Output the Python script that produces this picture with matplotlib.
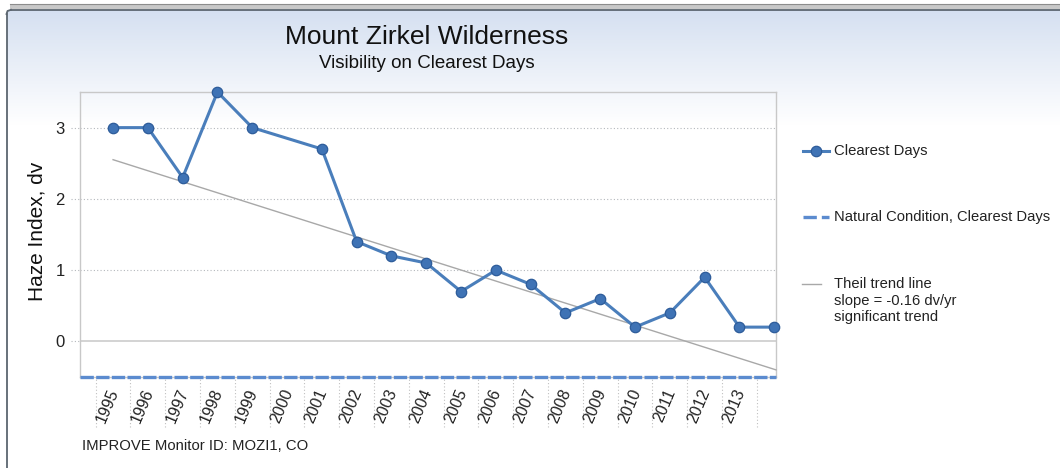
import numpy as np
import matplotlib
matplotlib.use("Agg")
import matplotlib.pyplot as plt
from matplotlib.patches import Rectangle
import matplotlib.transforms as mtransforms

plt.rcParams['font.family'] = ['Liberation Sans', 'DejaVu Sans']

# Data
years = [1995, 1996, 1997, 1998, 1999, 2001, 2002, 2003, 2004, 2005,
         2006, 2007, 2008, 2009, 2010, 2011, 2012, 2013, 2014]
haze = [3.0, 3.0, 2.3, 3.5, 3.0, 2.7, 1.4, 1.2, 1.1, 0.7,
        1.0, 0.8, 0.4, 0.6, 0.2, 0.4, 0.9, 0.2, 0.2]
tick_labels = [str(y) for y in range(1995, 2014)]
natural_value = -0.5
trend_years = [1995, 2014.05]
trend_vals = [2.55, -0.40]

W, H = 1060, 468
fig = plt.figure(figsize=(W / 100, H / 100), dpi=100)
fig.patch.set_facecolor('white')

# background layer in pixel coordinates
bg = fig.add_axes([0, 0, 1, 1], zorder=-10)
bg.set_xlim(0, W)
bg.set_ylim(H, 0)
bg.axis('off')

top_col = np.array([0.835, 0.878, 0.945])
grad = np.linspace(0, 1, 200)[:, None]
img = top_col[None, None, :] * (1 - grad[..., None]) + grad[..., None]
img = np.repeat(img, 2, axis=1)
bg.imshow(img, extent=[7, W, 125, 10], aspect='auto', interpolation='bilinear')
bg.add_patch(Rectangle((10, 3.5), W, 5.5, facecolor='#c8c8c8', edgecolor='none'))
bg.plot([10, W], [3.5, 3.5], color='#8c8c8c', lw=0.8)
bg.plot([11, W], [9.8, 9.8], color='#5c6670', lw=1.3)
bg.plot([6.5, 6.5], [14, H], color='#5c6670', lw=1.3)
bg.plot([6.5, 7.5, 11], [14, 11, 9.8], color='#5c6670', lw=1.3)

# titles and outer text
bg.text(427, 37, 'Mount Zirkel Wilderness', ha='center', va='center',
        fontsize=19, color='#111111')
bg.text(427, 64, 'Visibility on Clearest Days', ha='center', va='center',
        fontsize=13.5, color='#111111')
bg.text(37, 231, 'Haze Index, dv', rotation=90, ha='center', va='center',
        fontsize=15, color='#111111')
bg.text(82, 446, 'IMPROVE Monitor ID: MOZI1, CO', ha='left', va='center',
        fontsize=10.7, color='#222222')

# main chart
ax = fig.add_axes([80 / W, 1 - 377 / H, 696 / W, 285 / H])
ax.set_facecolor('none')
ax.set_xlim(1994.05, 2014.05)
ax.set_ylim(-0.5, 3.5)

for s in ['left', 'top', 'right', 'bottom']:
    ax.spines[s].set_color('#c8c8c8')
    ax.spines[s].set_linewidth(1)

for v in [1, 2, 3]:
    ax.axhline(v, color='#b4b8bc', lw=0.8, ls=(0, (1, 2)), zorder=1)
ax.axhline(0, color='#c8c8c8', lw=1.1, zorder=1)

ax.set_yticks([0, 1, 2, 3])
ax.tick_params(axis='y', length=0, pad=11, labelsize=12, labelcolor='#222222')
ax.set_xticks([])

# dotted tick marks
blend_x = mtransforms.blended_transform_factory(ax.transData, ax.transAxes)
blend_y = mtransforms.blended_transform_factory(ax.transAxes, ax.transData)
edges = np.arange(1994.5, 2014, 1.0)
ax.vlines(edges, -50 / 285, 0, transform=blend_x, colors='#c0c0c0',
          lw=0.8, ls=(0, (1, 2)), clip_on=False)
ax.hlines([0, 1, 2, 3], -9 / 696, 0, transform=blend_y, colors='#b4b8bc',
          lw=0.8, ls=(0, (1, 2)), clip_on=False)

for i, lab in enumerate(tick_labels):
    ax.annotate(lab, xy=(1995 + i, 0), xycoords=blend_x,
                xytext=(1, -9), textcoords='offset points',
                rotation=67, ha='right', va='center', rotation_mode='anchor',
                fontsize=11.5, color='#222222', annotation_clip=False)

# series
ax.plot(trend_years, trend_vals, color='#a8a8a8', lw=1.0, zorder=3,
        clip_on=False)
ax.axhline(natural_value, color='#5b8bcf', lw=2.4, ls=(0, (4, 0.7)),
           zorder=4, clip_on=False)
ax.plot(years, haze, color='#4a7ebb', lw=2.2, marker='o', ms=7.5,
        mfc='#3f73b5', mec='#2d5c9a', mew=0.9, zorder=5, clip_on=False)

# legend (pixel coordinates)
bg.plot([803, 829], [151, 151], color='#4a7ebb', lw=2.2)
bg.plot([816], [151], marker='o', ms=7.5, mfc='#3f73b5', mec='#2d5c9a',
        mew=0.9, color='none')
bg.text(834, 151, 'Clearest Days', va='center', ha='left', fontsize=10.7,
        color='#222222')
bg.plot([803, 829], [217, 217], color='#5b8bcf', lw=2.4, ls=(0, (4, 1.5)))
bg.text(834, 217, 'Natural Condition, Clearest Days', va='center', ha='left',
        fontsize=10.6, color='#222222')
bg.plot([802, 821], [284, 284], color='#a8a8a8', lw=1.0)
bg.text(834, 277, 'Theil trend line\nslope = -0.16 dv/yr\nsignificant trend',
        va='top', ha='left', fontsize=10.6, color='#222222', linespacing=1.25)

fig.savefig('out.png', dpi=100)
